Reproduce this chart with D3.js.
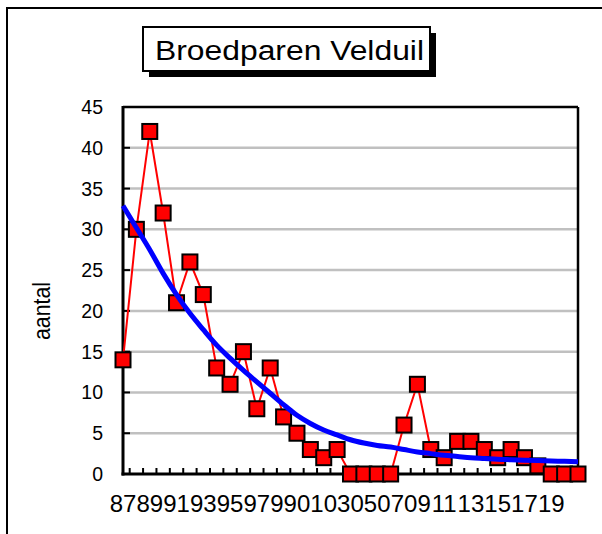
<!DOCTYPE html>
<html>
<head>
<meta charset="utf-8">
<script src="https://cdn.jsdelivr.net/npm/d3@7"></script>
<style>
  html, body { margin: 0; padding: 0; background: #fff; }
  svg { display: block; }
  text { font-family: "Liberation Sans", Arial, sans-serif; fill: #000; }
</style>
</head>
<body>
<svg id="chart" width="602" height="534"></svg>
<script>
// ---- data ----
const years = [1987,1988,1989,1990,1991,1992,1993,1994,1995,1996,1997,1998,1999,2000,2001,2002,2003,2004,2005,2006,2007,2008,2009,2010,2011,2012,2013,2014,2015,2016,2017,2018,2019,2020,2021];
const pairs = [14,30,42,32,21,26,22,13,11,15,8,13,7,5,3,2,3,0,0,0,0,6,11,3,2,4,4,3,2,3,2,1,0,0,0];
const trend = [32.9,30.2,27.5,24.6,22.0,19.7,17.7,15.8,14.2,12.7,11.3,9.9,8.5,7.2,6.2,5.4,4.8,4.2,3.8,3.5,3.3,3.0,2.7,2.5,2.3,2.15,2.0,1.9,1.8,1.75,1.7,1.65,1.6,1.55,1.5];
const tickYears = [1987,1989,1991,1993,1995,1997,1999,2001,2003,2005,2007,2009,2011,2013,2015,2017,2019];
const tickLabels = ["87","89","91","93","95","97","99","01","03","05","07","09","11","13","15","17","19"];
const yTicks = [0,5,10,15,20,25,30,35,40,45];
const title = "Broedparen Velduil";
const yTitle = "aantal";

// ---- layout ----
const svg = d3.select("#chart");
const L = 123, R = 578, T = 107, B = 474;
const x = d3.scaleLinear().domain([1987, 2021]).range([L, R]);
const y = d3.scaleLinear().domain([0, 45]).range([B, T]);
const step = x(1988) - x(1987);

// outer frame (runs off the page right and bottom)
svg.append("rect").attr("x", 7).attr("y", 8).attr("width", 700).attr("height", 700)
  .attr("fill", "none").attr("stroke", "#000").attr("stroke-width", 2);

// gridlines
svg.append("g").selectAll("line").data(yTicks.filter(d => d > 0 && d < 45)).join("line")
  .attr("x1", L).attr("x2", R).attr("y1", d => y(d)).attr("y2", d => y(d))
  .attr("stroke", "#c0c0c0").attr("stroke-width", 2.5);

// plot border top/right
svg.append("line").attr("x1", L).attr("x2", R).attr("y1", T).attr("y2", T).attr("stroke", "#000").attr("stroke-width", 2.5);
svg.append("line").attr("x1", R).attr("x2", R).attr("y1", T).attr("y2", B).attr("stroke", "#000").attr("stroke-width", 2.5);

// y axis ticks (inward) and labels
svg.append("g").selectAll("line").data(yTicks).join("line")
  .attr("x1", L).attr("x2", L + 7).attr("y1", d => y(d)).attr("y2", d => y(d))
  .attr("stroke", "#000").attr("stroke-width", 2);
svg.append("g").selectAll("text").data(yTicks).join("text")
  .attr("x", 103).attr("y", d => y(d) + 7)
  .attr("text-anchor", "end").style("font-size", "19.5px")
  .text(d => d);

// x axis minor ticks between categories (inward)
const xTickPos = years.slice(0, -1).map(v => x(v) + step / 2);
svg.append("g").selectAll("line").data(xTickPos).join("line")
  .attr("x1", d => d).attr("x2", d => d).attr("y1", B).attr("y2", B - 6)
  .attr("stroke", "#000").attr("stroke-width", 2);

// axes lines
svg.append("line").attr("x1", L).attr("x2", L).attr("y1", T - 1).attr("y2", B + 1.5).attr("stroke", "#000").attr("stroke-width", 3);
svg.append("line").attr("x1", L - 1.5).attr("x2", R + 1).attr("y1", B).attr("y2", B).attr("stroke", "#000").attr("stroke-width", 3);

// x labels
svg.append("g").selectAll("text").data(tickYears).join("text")
  .attr("x", d => x(d)).attr("y", 512)
  .attr("text-anchor", "middle").style("font-size", "24px")
  .text((d, i) => tickLabels[i]);

// y title
svg.append("text").attr("transform", "translate(50,311) rotate(-90)")
  .attr("text-anchor", "middle").style("font-size", "23px")
  .attr("textLength", 58).attr("lengthAdjust", "spacingAndGlyphs")
  .text(yTitle);

// data line
const data = years.map((yr, i) => ({ yr, v: pairs[i] }));
svg.append("path").datum(data)
  .attr("fill", "none").attr("stroke", "#ff0000").attr("stroke-width", 2)
  .attr("d", d3.line().x(d => x(d.yr)).y(d => y(d.v)));

// markers
const ms = 15;
svg.append("g").selectAll("rect").data(data).join("rect")
  .attr("x", d => x(d.yr) - ms / 2).attr("y", d => y(d.v) - ms / 2)
  .attr("width", ms).attr("height", ms)
  .attr("fill", "#ff0000").attr("stroke", "#000").attr("stroke-width", 2);

// trend line
const tdata = years.map((yr, i) => ({ yr, v: trend[i] }));
svg.append("path").datum(tdata)
  .attr("fill", "none").attr("stroke", "#0000ff").attr("stroke-width", 5)
  .attr("d", d3.line().curve(d3.curveMonotoneX).x(d => x(d.yr)).y(d => y(d.v)));

// title box with shadow
svg.append("rect").attr("x", 149).attr("y", 33).attr("width", 287).attr("height", 44).attr("fill", "#000");
svg.append("rect").attr("x", 143).attr("y", 27).attr("width", 287).attr("height", 44)
  .attr("fill", "#fff").attr("stroke", "#000").attr("stroke-width", 2);
svg.append("text").attr("x", 155).attr("y", 60)
  .style("font-size", "27px")
  .attr("textLength", 269).attr("lengthAdjust", "spacingAndGlyphs")
  .text(title);
</script>
</body>
</html>
